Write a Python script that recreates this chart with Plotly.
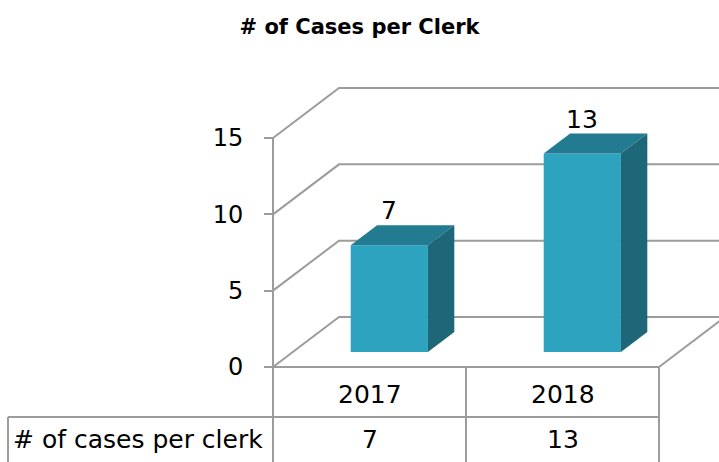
import plotly.graph_objects as go

# ---- data ----
categories = ["2017", "2018"]
values = [7, 13]
series_name = "# of cases per clerk"
y_ticks = [0, 5, 10, 15]
title_text = "# of Cases per Clerk"

# ---- geometry (axis units) ----
W, H = 719, 462
PX_X = 193.0            # pixels per category unit
PX_Y = 15.267           # pixels per value unit
X_LEFT_PX, Y_ZERO_PX = 273, 367
x0 = -0.5 - X_LEFT_PX / PX_X
x1 = -0.5 + (W - X_LEFT_PX) / PX_X
y0 = -(H - Y_ZERO_PX) / PX_Y
y1 = Y_ZERO_PX / PX_Y

DX = 66 / PX_X          # depth offset of back wall
DY = 50 / PX_Y
BAR_W = 0.4
BAR_START = 0.3         # bar front at 30% of depth
BAR_DEPTH = 0.4

FRONT = "#2EA3C0"
TOP = "#237B91"
SIDE = "#1D6779"
GRID = "#9C9C9C"
FONT = "DejaVu Sans"

fig = go.Figure()

# front faces through bar trace
base = BAR_START * DY
xs = [i + BAR_START * DX for i in range(len(categories))]
fig.add_trace(go.Bar(x=xs, y=values, base=[base] * len(values), width=BAR_W,
                     marker=dict(color=FRONT, line=dict(width=0)),
                     hoverinfo="skip", showlegend=False))

# top and side faces
ddx, ddy = BAR_DEPTH * DX, BAR_DEPTH * DY
for xc, v in zip(xs, values):
    xl, xr = xc - BAR_W / 2, xc + BAR_W / 2
    t = base + v
    fig.add_trace(go.Scatter(x=[xl, xr, xr + ddx, xl + ddx, xl],
                             y=[t, t, t + ddy, t + ddy, t],
                             fill="toself", fillcolor=TOP, mode="lines",
                             line=dict(width=0, color=TOP),
                             hoverinfo="skip", showlegend=False))
    fig.add_trace(go.Scatter(x=[xr, xr + ddx, xr + ddx, xr, xr],
                             y=[base, base + ddy, t + ddy, t, base],
                             fill="toself", fillcolor=SIDE, mode="lines",
                             line=dict(width=0, color=SIDE),
                             hoverinfo="skip", showlegend=False))
    fig.add_annotation(x=xc, y=t + ddy, text=str(v), showarrow=False,
                       yanchor="bottom", yshift=-2,
                       font=dict(family=FONT, size=25, color="#000"))

shapes = []
line = dict(color=GRID, width=2)
# gridlines: front-left diagonal then back wall
for v in y_ticks:
    shapes.append(dict(type="path", xref="x", yref="y", layer="below",
                       path=f"M {-0.5},{v} L {-0.5 + DX},{v + DY} L {x1},{v + DY}",
                       line=line))
# value axis line + table left border of categories
shapes.append(dict(type="line", xref="x", yref="y", x0=-0.5, x1=-0.5,
                   y0=y_ticks[-1], y1=y0, line=line, layer="below"))
# front floor edge
n = len(categories)
shapes.append(dict(type="line", xref="x", yref="y", x0=-0.5, x1=n - 0.5,
                   y0=0, y1=0, line=line, layer="below"))
# right floor diagonal
shapes.append(dict(type="line", xref="x", yref="y", x0=n - 0.5, x1=n - 0.5 + DX,
                   y0=0, y1=DY, line=line, layer="below"))
# category separators in table
for i in range(n):
    shapes.append(dict(type="line", xref="x", yref="y", x0=i + 0.5, x1=i + 0.5,
                       y0=0, y1=y0, line=line, layer="below"))
# table row separator and row-label box
ROW_SEP = -(417 - Y_ZERO_PX) / PX_Y
TBL_LEFT = -0.5 - (X_LEFT_PX - 8) / PX_X
shapes.append(dict(type="line", xref="x", yref="y", x0=TBL_LEFT, x1=n - 0.5,
                   y0=ROW_SEP, y1=ROW_SEP, line=line, layer="below"))
shapes.append(dict(type="line", xref="x", yref="y", x0=TBL_LEFT, x1=TBL_LEFT,
                   y0=ROW_SEP, y1=y0, line=line, layer="below"))

# table text
ROW1_Y = -(394 - Y_ZERO_PX) / PX_Y
ROW2_Y = -(439 - Y_ZERO_PX) / PX_Y
for i, (c, v) in enumerate(zip(categories, values)):
    fig.add_annotation(x=i, y=ROW1_Y, text=c, showarrow=False,
                       font=dict(family=FONT, size=25, color="#000"))
    fig.add_annotation(x=i, y=ROW2_Y, text=str(v), showarrow=False,
                       font=dict(family=FONT, size=25, color="#000"))
fig.add_annotation(x=TBL_LEFT, y=ROW2_Y, text=series_name, showarrow=False,
                   xanchor="left", xshift=3,
                   font=dict(family=FONT, size=25, color="#000"))

fig.update_layout(
    width=W, height=H, margin=dict(l=0, r=0, t=0, b=0),
    paper_bgcolor="white", plot_bgcolor="rgba(0,0,0,0)",
    shapes=shapes, barmode="overlay",
    title=dict(text=title_text, x=0.5, xanchor="center", y=1 - 27 / H,
               yanchor="middle",
               font=dict(family=FONT, size=21, color="#000", weight="bold")),
    xaxis=dict(range=[x0, x1], visible=False, fixedrange=True),
    yaxis=dict(range=[y0, y1], anchor="free", position=X_LEFT_PX / W,
               tickvals=y_ticks, ticks="outside", ticklen=9, tickcolor=GRID,
               tickwidth=2, showgrid=False, zeroline=False, showline=False,
               ticklabelstandoff=16,
               tickfont=dict(family=FONT, size=24, color="#000"),
               fixedrange=True),
)

fig.write_html("out.html", config={"displayModeBar": False},
               post_script="document.body.style.margin='0';"
                           "document.body.style.overflow='hidden';")
